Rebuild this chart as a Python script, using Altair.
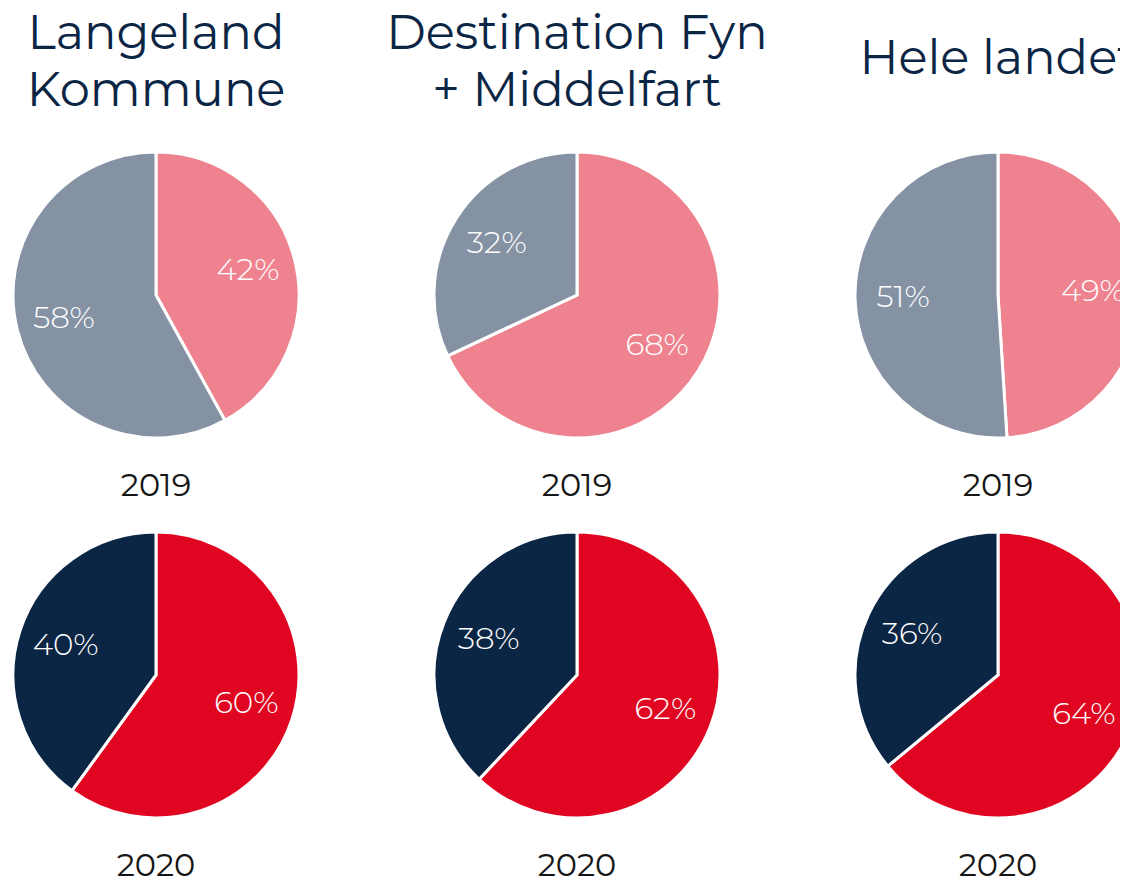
import math
import altair as alt
import pandas as pd

FONT = "Montserrat, Open Sans, sans-serif"

# Data
regions = ["Langeland\nKommune", "Destination Fyn\n+ Middelfart", "Hele landet"]
title_lines = [2, 2, 1]
years = ["2019", "2020"]
main_2019 = [42, 68, 49]
other_2019 = [58, 32, 51]
main_2020 = [60, 62, 64]
other_2020 = [40, 38, 36]
categories = ["2019 main", "2019 other", "2020 main", "2020 other"]
palette = ["#EE838F", "#8492A4", "#E00621", "#0B2645"]

rows = []
for c in range(3):
    rows.append({"col": c, "row": 0, "cat": categories[0], "value": main_2019[c], "order": 0})
    rows.append({"col": c, "row": 0, "cat": categories[1], "value": other_2019[c], "order": 1})
    rows.append({"col": c, "row": 1, "cat": categories[2], "value": main_2020[c], "order": 0})
    rows.append({"col": c, "row": 1, "cat": categories[3], "value": other_2020[c], "order": 1})
pies = pd.DataFrame(rows)

titles = pd.DataFrame({"col": [0, 1, 2], "row": [0, 0, 0], "text": regions, "lines": title_lines})
year_labels = pd.DataFrame({
    "col": [0, 1, 2, 0, 1, 2],
    "row": [0, 0, 0, 1, 1, 1],
    "text": [years[0]] * 3 + [years[1]] * 3,
})

R = 143
x_enc = alt.X("col:Q", scale=alt.Scale(domain=[0, 2], range=[148, 990]), axis=None)
y_enc = alt.Y("row:Q", scale=alt.Scale(domain=[0, 1], range=[287, 667]), axis=None)
theta_scale = alt.Scale(domain=[0, 100], range=[0, 2 * math.pi])

pie_base = alt.Chart(pies).transform_window(
    end="sum(value)", groupby=["col", "row"], sort=[alt.SortField("order")], frame=[None, 0]
).transform_calculate(
    start="datum.end - datum.value",
    mid="datum.end - datum.value / 2",
    label="datum.value + '%'",
)

arcs = pie_base.mark_arc(outerRadius=R, stroke="white", strokeWidth=3, clip=True).encode(
    x=x_enc,
    y=y_enc,
    theta=alt.Theta("start:Q", scale=theta_scale),
    theta2="end:Q",
    color=alt.Color("cat:N", scale=alt.Scale(domain=categories, range=palette), legend=None),
)

pct = pie_base.mark_text(radius=95, fontSize=31, color="white", font=FONT, fontWeight=300,
                         baseline="middle", align="center").encode(
    x=x_enc,
    y=y_enc,
    theta=alt.Theta("mid:Q", scale=theta_scale),
    text="label:N",
)

title_style = dict(fontSize=48, font=FONT, color="#0B2645", lineBreak="\n", lineHeight=57,
                   baseline="middle", align="center")

title_two = alt.Chart(titles).transform_filter("datum.lines == 2").mark_text(
    dy=-260, **title_style
).encode(x=x_enc, y=y_enc, text="text:N")

title_one = alt.Chart(titles).transform_filter("datum.lines == 1").mark_text(
    dy=-235, **title_style
).encode(x=x_enc, y=y_enc, text="text:N")

year_text = alt.Chart(year_labels).mark_text(
    fontSize=32, font=FONT, color="#151515", baseline="middle", align="center", dy=191,
).encode(x=x_enc, y=y_enc, text="text:N")

chart = alt.layer(arcs, pct, title_two, title_one, year_text).properties(
    width=1112, height=870, padding=0, autosize="none"
).configure_view(stroke=None)

chart.save("out.html", embed_options={"renderer": "svg", "actions": False})
